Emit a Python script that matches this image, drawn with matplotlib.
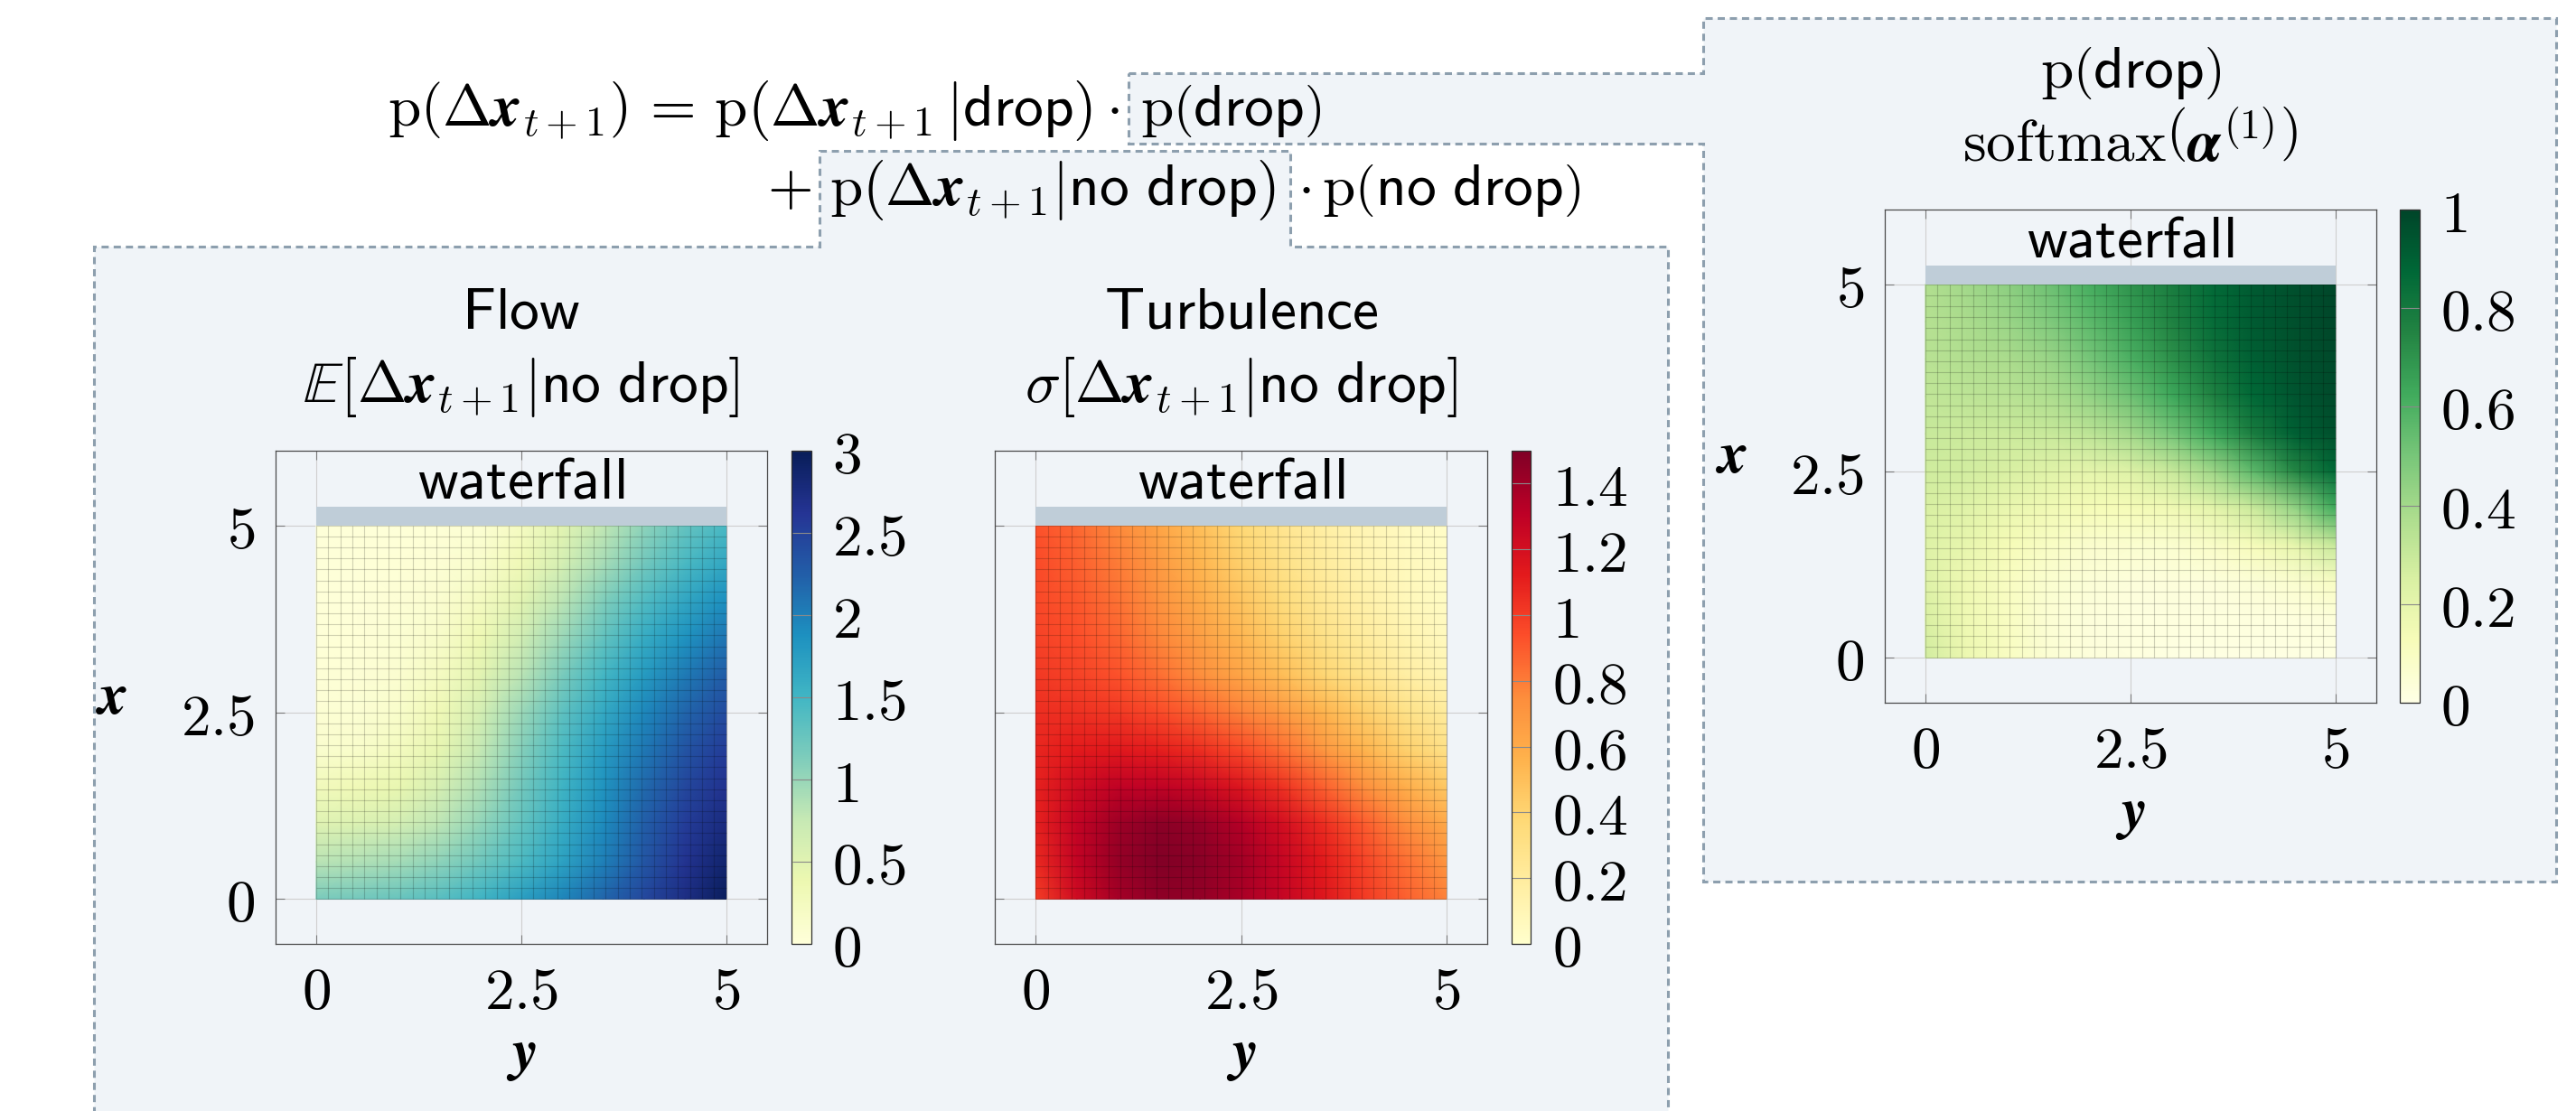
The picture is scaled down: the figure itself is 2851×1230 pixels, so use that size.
import matplotlib
matplotlib.use("Agg")
import matplotlib.pyplot as plt
from matplotlib.patches import Polygon, Rectangle
from matplotlib.mathtext import MathTextParser
import numpy as np

plt.rcParams['mathtext.fontset'] = 'cm'
plt.rcParams['font.family'] = ['DejaVu Serif']

# node positions, same along y (horizontal) and x (vertical)
nodes = [0.0, 0.5, 1.0, 1.5, 2.0, 2.5, 3.0, 3.5, 4.0, 4.5, 5.0]

# rows: x = 5 (top) ... 0 (bottom); columns: y = 0 ... 5
flow_mean = [
    [0.02, 0.02, 0.02, 0.03, 0.06, 0.22, 0.48, 0.78, 1.05, 1.28, 1.45],
    [0.02, 0.02, 0.03, 0.05, 0.12, 0.32, 0.62, 0.92, 1.20, 1.45, 1.65],
    [0.02, 0.02, 0.04, 0.09, 0.22, 0.48, 0.80, 1.12, 1.40, 1.66, 1.88],
    [0.02, 0.03, 0.06, 0.15, 0.34, 0.65, 0.98, 1.30, 1.60, 1.86, 2.08],
    [0.03, 0.04, 0.09, 0.22, 0.48, 0.82, 1.16, 1.48, 1.78, 2.04, 2.27],
    [0.05, 0.07, 0.14, 0.32, 0.62, 0.98, 1.32, 1.64, 1.94, 2.20, 2.42],
    [0.10, 0.13, 0.24, 0.44, 0.76, 1.10, 1.44, 1.76, 2.06, 2.34, 2.55],
    [0.28, 0.32, 0.42, 0.60, 0.88, 1.20, 1.52, 1.84, 2.16, 2.45, 2.66],
    [0.52, 0.56, 0.64, 0.80, 1.02, 1.30, 1.60, 1.92, 2.24, 2.55, 2.76],
    [0.82, 0.86, 0.93, 1.05, 1.22, 1.44, 1.70, 2.00, 2.32, 2.64, 2.86],
    [1.15, 1.20, 1.27, 1.36, 1.52, 1.74, 1.96, 2.20, 2.45, 2.72, 2.97],
]

turbulence_std = [
    [0.93, 0.86, 0.76, 0.63, 0.50, 0.38, 0.26, 0.17, 0.10, 0.05, 0.02],
    [0.95, 0.89, 0.80, 0.68, 0.55, 0.42, 0.30, 0.20, 0.12, 0.07, 0.03],
    [0.96, 0.91, 0.83, 0.72, 0.60, 0.48, 0.35, 0.24, 0.15, 0.08, 0.04],
    [0.98, 0.94, 0.87, 0.77, 0.66, 0.54, 0.42, 0.30, 0.20, 0.12, 0.06],
    [1.01, 0.98, 0.93, 0.84, 0.74, 0.63, 0.51, 0.39, 0.28, 0.18, 0.11],
    [1.05, 1.04, 1.01, 0.95, 0.87, 0.78, 0.68, 0.56, 0.43, 0.30, 0.20],
    [1.08, 1.12, 1.14, 1.11, 1.05, 0.96, 0.84, 0.70, 0.56, 0.42, 0.30],
    [1.10, 1.22, 1.30, 1.30, 1.25, 1.16, 1.04, 0.89, 0.74, 0.59, 0.46],
    [1.10, 1.28, 1.41, 1.46, 1.43, 1.34, 1.21, 1.06, 0.90, 0.75, 0.61],
    [1.07, 1.28, 1.43, 1.49, 1.47, 1.39, 1.27, 1.13, 0.98, 0.84, 0.71],
    [1.00, 1.22, 1.38, 1.45, 1.44, 1.37, 1.27, 1.15, 1.01, 0.89, 0.78],
]

drop_prob = [
    [0.36, 0.40, 0.45, 0.52, 0.61, 0.70, 0.78, 0.86, 0.92, 0.96, 0.99],
    [0.35, 0.38, 0.42, 0.48, 0.56, 0.66, 0.76, 0.85, 0.92, 0.96, 0.99],
    [0.34, 0.36, 0.38, 0.42, 0.50, 0.60, 0.71, 0.82, 0.90, 0.95, 0.98],
    [0.32, 0.33, 0.34, 0.37, 0.43, 0.52, 0.63, 0.76, 0.87, 0.94, 0.98],
    [0.30, 0.29, 0.29, 0.30, 0.33, 0.40, 0.50, 0.63, 0.78, 0.90, 0.96],
    [0.28, 0.27, 0.25, 0.22, 0.20, 0.23, 0.30, 0.41, 0.56, 0.74, 0.87],
    [0.25, 0.22, 0.18, 0.15, 0.13, 0.13, 0.15, 0.20, 0.29, 0.43, 0.62],
    [0.23, 0.19, 0.13, 0.09, 0.07, 0.06, 0.06, 0.08, 0.12, 0.19, 0.30],
    [0.23, 0.16, 0.10, 0.06, 0.04, 0.03, 0.03, 0.03, 0.04, 0.06, 0.09],
    [0.25, 0.16, 0.10, 0.05, 0.03, 0.02, 0.02, 0.02, 0.02, 0.02, 0.03],
    [0.27, 0.17, 0.10, 0.05, 0.03, 0.02, 0.01, 0.01, 0.01, 0.01, 0.01],
]

axis_ticks = [0, 2.5, 5]
flow_cticks = [0, 0.5, 1, 1.5, 2, 2.5, 3]
turb_cticks = [0, 0.2, 0.4, 0.6, 0.8, 1, 1.2, 1.4]
drop_cticks = [0, 0.2, 0.4, 0.6, 0.8, 1]

W, H = 2851, 1230
FS = 47
panel_fc = '#f0f4f8'
dash_c = '#8d9fae'
band_c = '#bfcdd8'


def bold(s):
    # \boldsymbol only exists in newer mathtext, keep \mathbf as a fallback
    try:
        MathTextParser('path').parse(r'$\boldsymbol{%s}$' % s)
        return r'\boldsymbol{%s}' % s
    except Exception:
        return r'\mathbf{%s}' % s


BX = bold('x')
BY = bold('y')
BALPHA = bold(r'\alpha')
DX = r'\Delta' + BX + r'_{t+1}'


def rect(left, top, width, height):
    return [left / W, 1 - (top + height) / H, width / W, height / H]


fig = plt.figure(figsize=(W / 100, H / 100), dpi=100)

# full-figure axes in pixel coordinates for the boxes and loose text
bg = fig.add_axes([0, 0, 1, 1], zorder=-5)
bg.set_xlim(0, W)
bg.set_ylim(H, 0)
bg.axis('off')

dash = (0, (2.6, 1.8))
left_box = [(104, H + 30), (104, 273), (907, 273), (907, 167), (1428, 167),
            (1428, 273), (1846, 273), (1846, H + 30)]
right_box = [(1249, 81), (1885, 81), (1885, 20), (2829, 20), (2829, 976),
             (1885, 976), (1885, 159), (1249, 159)]
for pts in (left_box, right_box):
    bg.add_patch(Polygon(pts, closed=True, fc=panel_fc, ec=dash_c, lw=2.2, ls=dash))


def txt(x, y, s, ha='center', size=FS):
    bg.text(x, y, s, fontsize=size, ha=ha, va='baseline')


# formula
txt(1240, 139, r'$\mathrm{p}\left(' + DX + r'\right)\,=\,\mathrm{p}\left(' + DX +
    r'\,|\mathsf{drop}\right)\cdot$', ha='right')
txt(1262, 139, r'$\mathrm{p}\left(\mathsf{drop}\right)$', ha='left')
txt(849, 227, r'$+$', ha='left')
txt(918, 227, r'$\mathrm{p}\left(' + DX + r'|\mathsf{no\ drop}\right)$', ha='left')
txt(1436, 227, r'$\cdot\,\mathrm{p}\left(\mathsf{no\ drop}\right)$', ha='left')


def heatmap(box, cbox, values, cmap, vmax, cticks, title1, title2, ylab=None):
    left, top, width, height = box
    ax = fig.add_axes(rect(*box))
    ax.set_facecolor(panel_fc)
    Z = np.array(values)[::-1]
    Yg, Xg = np.meshgrid(nodes, nodes)
    mesh = ax.pcolormesh(Yg, Xg, Z, shading='gouraud', cmap=cmap,
                         vmin=0, vmax=vmax, zorder=1)
    edges = np.linspace(0, 5, 35)
    ax.vlines(edges, 0, 5, colors='k', alpha=0.18, lw=0.8, zorder=2)
    ax.hlines(edges, 0, 5, colors='k', alpha=0.18, lw=0.8, zorder=2)
    ax.add_patch(Rectangle((0, 5), 5, 0.25, fc=band_c, ec='none', zorder=2))
    ax.text(2.5, 5.37, r'$\mathsf{waterfall}$', fontsize=FS, ha='center',
            va='baseline', zorder=3)
    ax.set_xlim(-0.5, 5.5)
    ax.set_ylim(-0.6, 6.0)
    ax.set_xticks(axis_ticks, labels=['$0$', '$2.5$', '$5$'])
    ax.set_yticks(axis_ticks, labels=['$0$', '$2.5$', '$5$'])
    ax.set_axisbelow(True)
    ax.grid(True, color='#cfcfcf', lw=0.8)
    ax.tick_params(direction='in', length=7, width=0.8, color='#7a7a7a',
                   top=True, right=True, labelsize=FS, pad=16,
                   labelleft=ylab is not None)
    for s in ax.spines.values():
        s.set_color('#4a4a4a')
        s.set_linewidth(0.9)

    cax = fig.add_axes(rect(*cbox))
    cb = fig.colorbar(mesh, cax=cax, ticks=cticks)
    cb.outline.set_edgecolor('#303030')
    cb.outline.set_linewidth(0.9)
    cax.set_yticklabels(['$%g$' % t for t in cticks])
    cax.tick_params(direction='in', length=cbox[2] * 0.72, width=0.8,
                    color='#8a8a8a', labelsize=FS, pad=17)

    cx = left + width / 2
    txt(cx, top - 135, title1)
    txt(cx, top - 54, title2)
    txt(cx, top + height + 139, '$' + BY + '$')
    if ylab is not None:
        bg.text(ylab, top + height / 2, '$' + BX + '$', fontsize=FS,
                ha='center', va='center')
    return ax


heatmap((304.5, 499, 544.5, 546), (876, 499, 21.5, 546), flow_mean, 'YlGnBu', 3,
        flow_cticks, r'$\mathsf{Flow}$',
        r'$\mathbb{E}\left[' + DX + r'|\mathsf{no\ drop}\right]$', ylab=124)
heatmap((1101, 499, 545, 546), (1673, 499, 21.5, 546), turbulence_std, 'YlOrRd', 1.5,
        turb_cticks, r'$\mathsf{Turbulence}$',
        r'$\sigma\left[' + DX + r'|\mathsf{no\ drop}\right]$')
heatmap((2085.5, 232, 544.5, 546), (2656, 232, 21.5, 546), drop_prob, 'YlGn', 1,
        drop_cticks, r'$\mathrm{p}\left(\mathsf{drop}\right)$',
        r'$\mathrm{softmax}\left(' + BALPHA + r'^{(1)}\right)$', ylab=1917)

fig.savefig('out.png', dpi=100, facecolor='white')
